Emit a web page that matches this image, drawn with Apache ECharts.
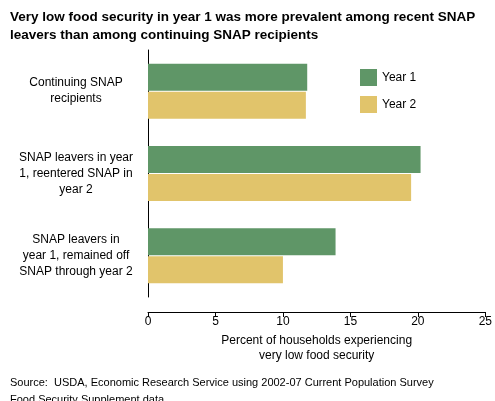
<!DOCTYPE html>
<html><head><meta charset="utf-8">
<script src="https://cdn.jsdelivr.net/npm/echarts@6/dist/echarts.min.js"></script>
<style>html,body{margin:0;padding:0;background:#fff}#c{width:495px;height:401px}</style>
</head><body><div id="c"></div>
<script>
const categories = ['SNAP leavers in\nyear 1, remained off\nSNAP through year 2','SNAP leavers in year\n1, reentered SNAP in\nyear 2','Continuing SNAP\nrecipients'];
const year1 = [13.9, 20.2, 11.8];
const year2 = [10.0, 19.5, 11.7];
const ticks = [0,5,10,15,20,25];
const chart = echarts.init(document.getElementById('c'));
const font = 'Liberation Sans, Arial, sans-serif';
chart.setOption({
  animation:false,
  textStyle:{fontFamily:font},
  title:[{text:'Very low food security in year 1 was more prevalent among recent SNAP\nleavers than among continuing SNAP recipients',left:5,top:3,textStyle:{fontSize:13.5,fontWeight:'bold',color:'#000',lineHeight:18,fontFamily:font}},
    {text:'Source:  USDA, Economic Research Service using 2002-07 Current Population Survey\nFood Security Supplement data.',left:5,top:369,textStyle:{fontSize:11,fontWeight:'normal',color:'#000',lineHeight:17,fontFamily:font}}],
  legend:{data:['Year 1','Year 2'],orient:'vertical',left:355,top:64,itemWidth:17,itemHeight:17,itemGap:10,icon:'rect',textStyle:{fontSize:12,color:'#000',fontFamily:font}},
  grid:{left:148,right:7,top:50,bottom:104,containLabel:false},
  xAxis:{type:'value',min:0,max:25,interval:5,splitLine:{show:false},offset:15,
    axisLine:{show:true,lineStyle:{color:'#000'}},axisTick:{show:true,length:5,lineStyle:{color:'#000'}},
    axisLabel:{color:'#000',fontSize:12,margin:4,formatter:v=>ticks.includes(v)?String(v):''},
    name:'Percent of households experiencing\nvery low food security',nameLocation:'middle',nameGap:17,
    nameTextStyle:{color:'#000',fontSize:12,lineHeight:15,verticalAlign:'top'}},
  yAxis:{type:'category',data:categories,
    axisLine:{show:true,lineStyle:{color:'#000'}},axisTick:{show:false},
    axisLabel:{color:'#000',fontSize:12,lineHeight:16,margin:72,align:'center'}},
  series:[
    {name:'Year 1',type:'bar',data:year1,barWidth:27,barGap:'4%',itemStyle:{color:'#5f9667'}},
    {name:'Year 2',type:'bar',data:year2,barWidth:27,barGap:'4%',itemStyle:{color:'#e1c46b'}}
  ]
});
</script></body></html>
